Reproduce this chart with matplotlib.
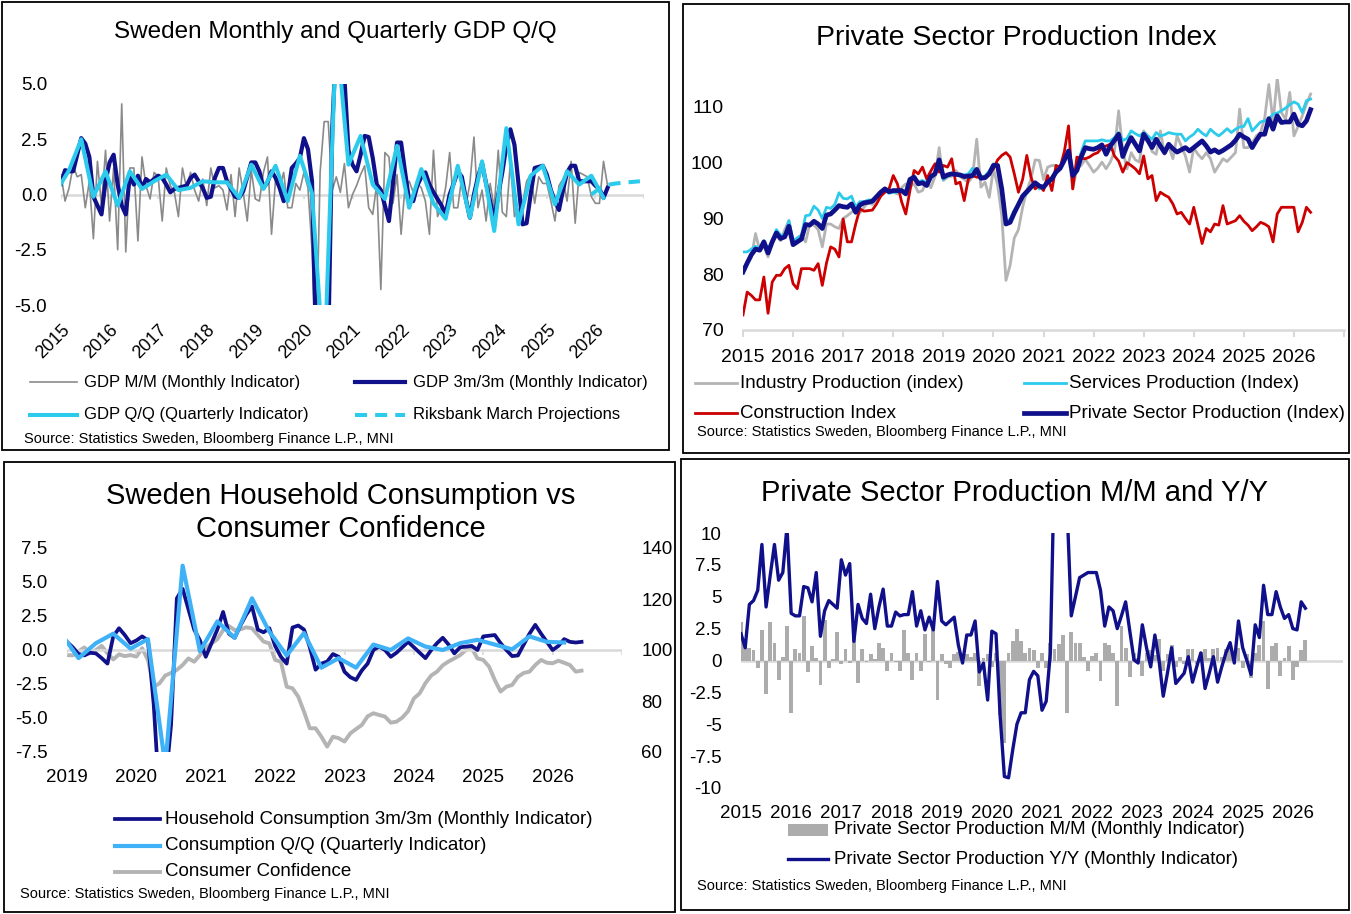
import numpy as np
import matplotlib
matplotlib.use("Agg")
import matplotlib.pyplot as plt
from matplotlib.lines import Line2D
from matplotlib.patches import Rectangle

plt.rcParams["font.family"] = ["Liberation Sans", "DejaVu Sans"]
plt.rcParams["axes.unicode_minus"] = False

W, H = 1351, 914

NAVY = "#10108a"
CYAN = "#2ccbeb"
AZURE = "#3fb2f7"
GREY_MM = "#8a8a8a"
GREY_LT = "#b4b4b4"
RED = "#cc0000"
AXIS_GREY = "#d9d9d9"
SOURCE = "Source: Statistics Sweden, Bloomberg Finance L.P., MNI"

# ---------------------------------------------------------------
# Panel 1 data: GDP, monthly from Jan 2015
# ---------------------------------------------------------------
gdp_mm = [
    0.9, -0.3, 0.3, 1.3, 0.8, 0.9, -0.6, 0.6, -2.0, 1.5, -0.5, 2.0,
    -1.2, 1.2, -2.5, 4.1, -2.6, 1.2, 1.2, -2.1, 1.7, 0.4, -0.2, 1.0,
    0.8, -1.2, 1.2, 0.4, 0.1, -1.0, 1.2, 0.3, 1.0, 0.2, -0.3, 0.7,
    -0.5, 1.2, 0.3, 0.4, 0.2, -0.7, 0.9, -1.0, 1.2, 0.1, -1.2, 1.1,
    -0.2, -0.3, 1.0, 1.7, -1.8, 0.7, 0.3, 1.0, -0.6, -0.6, 0.5, 0.2,
    1.0, 0.3, -2.5, -7.5, 1.0, 3.3, 3.3, 0.2, 0.8, 0.1, 1.4, -0.6,
    0.0, 0.4, 0.9, 1.3, -0.6, -0.9, 0.5, -4.3, 1.9, 1.7, -0.4, 0.9,
    -1.8, 0.4, 0.6, 0.1, 0.5, 0.3, -0.3, -1.8, 2.0, -1.0, -0.6, 0.3,
    1.9, -0.6, -0.6, 0.8, -0.5, 0.5, 2.6, -0.6, 0.2, -1.2, 0.5, -0.6,
    2.0, -0.8, -1.0, 1.5, -1.0, -0.7, -0.4, 0.6, 0.9, -0.4, 0.8, 0.5,
    0.5, -0.3, -1.2, 0.4, 0.7, -0.3, 1.5, -1.3, 1.0, 0.9, 0.8, -0.1,
    -0.4, -0.4, 1.5, 0.4,
]
gdp_3m3m = [
    0.5, 1.1, 1.05, 1.05, 1.8, 2.55, 2.3, 1.7, -0.1, -0.5, -0.9, 0.6,
    1.45, 1.8, 0.45, -0.5, -0.9, 0.85, 0.45, 0.85, 0.3, 0.7, 0.55, 0.7,
    0.85, 0.75, 0.45, 0.1, 0.25, 0.3, 0.35, 0.4, 0.75, 0.9, 0.6, 0.3,
    -0.15, -0.1, 0.75, 1.2, 1.2, 0.6, 0.25, -0.1, -0.15, 0.15, 0.8, 1.45,
    1.45, 1.05, 0.3, 0.55, 1.05, 0.75, 0.3, -0.3, -0.1, 1.2, 1.4, 1.65,
    2.55, 2.05, 0.6, -7.0, -9.0, -8.0, -7.0, 3.0, 7.0, 7.0, 5.3, 2.0,
    1.35, 1.05, 1.8, 2.65, 2.6, 1.65, 0.45, 0.2, -0.5, -1.2, 0.5, 2.35,
    2.35, 1.0, -0.3, -0.3, 0.4, 0.8, 1.0, 0.45, 0.1, -0.2, -0.5, -0.9,
    0.0, 0.5, 1.05, 0.8, -0.2, -1.05, 0.0, 0.8, 1.4, 0.5, -0.3, -1.15,
    0.0, 1.0, 2.2, 2.95, 2.25, 0.5, -1.35, -1.3, 0.0, 1.2, 1.25, 1.3,
    0.9, 0.2, -0.3, -0.7, 0.2, 1.0, 1.3, 1.3, 0.6, 0.6, 0.6, 0.6,
    0.4, 0.25, -0.15, 0.3,
]
# quarterly, 2014Q4 .. 2026Q1 (plotted at quarter-end month)
gdp_qq = [
    0.2, 1.1, 2.5, -0.1, 1.05, -0.5, 1.05, 0.25, 0.6, 0.9, 0.2, 0.3, 0.6,
    0.55, 0.55, -0.15, 1.35, 0.25, 1.3, -0.3, 1.75, 0.05, -8.0, 7.5, 1.35,
    2.65, 0.45, -0.2, 2.2, -0.6, 1.15, -0.4, -1.1, 1.3, -1.05, 1.5, -1.65,
    3.0, -1.35, 0.85, 1.3, -0.45, 1.05, 0.45, 0.85, -0.15,
]
# Riksbank projections, 2025Q4 .. 2026Q4
riksbank_proj = [0.0, 0.4, 0.5, 0.55, 0.6]

# ---------------------------------------------------------------
# Panel 2 data: production indices, monthly from Jan 2015
# ---------------------------------------------------------------
industry_idx = [
    81.0, 82.0, 83.0, 87.3, 84.3, 85.0, 83.1, 85.8, 87.0, 86.0, 88.0, 89.6,
    85.8, 86.5, 87.0, 85.8, 89.0, 88.8, 88.0, 84.9, 89.0, 89.0, 88.5, 88.2,
    90.0, 90.5, 91.1, 91.7, 91.0, 92.0, 92.9, 92.5, 93.5, 94.5, 95.5, 94.7,
    94.7, 94.4, 95.5, 96.2, 95.8, 96.2, 94.7, 95.0, 96.8, 95.5, 97.5, 102.7,
    96.8, 97.4, 97.6, 98.6, 97.5, 97.0, 96.5, 97.5, 104.2, 95.6, 96.5, 93.8,
    98.9, 96.0, 90.5, 78.9, 81.6, 86.5, 88.0, 92.0, 95.0, 97.1, 100.5, 100.4,
    97.0, 99.2, 99.5, 99.5, 98.9, 100.0, 101.8, 95.3, 98.9, 99.5, 100.6, 99.5,
    98.3, 99.0, 100.1, 98.9, 100.1, 102.0, 109.3, 102.1, 98.9, 101.8, 100.5, 100.1,
    105.7, 104.8, 102.0, 101.5, 105.7, 101.5, 103.0, 100.7, 104.8, 103.0, 101.2, 98.3,
    102.7, 101.5, 100.7, 101.8, 100.7, 98.3, 99.5, 100.7, 100.2, 101.0, 101.8, 109.6,
    102.7, 102.7, 103.5, 104.8, 105.4, 108.0, 114.0, 107.2, 115.2, 109.0, 107.8, 112.6,
    104.8, 106.5, 108.4, 110.5, 112.3,
]
services_idx = [
    84.0, 84.0, 84.5, 85.0, 84.5, 86.0, 84.5, 86.0, 88.0, 87.0, 87.0, 89.6,
    86.0, 86.5, 87.0, 90.5, 90.6, 92.2, 91.5, 90.0, 92.0, 91.8, 92.5, 94.6,
    93.6, 93.5, 94.0, 92.0, 93.0, 93.0, 93.3, 93.3, 94.0, 94.7, 95.0, 94.5,
    94.7, 94.7, 95.0, 94.4, 96.8, 97.2, 96.6, 96.8, 96.4, 97.5, 98.2, 100.2,
    97.0, 97.6, 97.8, 98.0, 97.8, 97.8, 98.0, 99.0, 98.0, 97.5, 97.6, 98.5,
    99.8, 99.6, 95.5, 89.5, 89.8, 91.5, 92.5, 93.7, 94.5, 95.4, 96.0, 95.3,
    95.4, 96.8, 97.4, 98.6, 99.0, 100.3, 101.5, 98.0, 99.0, 101.8, 103.9, 103.9,
    103.9, 103.9, 104.1, 103.9, 103.9, 104.5, 105.4, 104.0, 104.3, 105.7, 105.2, 104.8,
    105.4, 104.8, 104.2, 105.4, 104.8, 105.0, 105.4, 105.2, 105.1, 105.1, 103.9, 104.6,
    105.1, 106.0, 105.3, 104.8, 106.0, 105.3, 104.8, 105.4, 106.1, 105.4, 106.0, 106.4,
    106.5, 107.9, 105.7, 106.5, 107.3, 107.5, 107.8, 108.7, 108.9, 109.3, 109.8, 110.4,
    110.9, 110.5, 109.0, 111.1, 111.4,
]
construction_idx = [
    72.7, 76.8, 76.2, 75.4, 75.4, 79.5, 73.0, 78.6, 79.8, 79.8, 81.0, 81.6,
    78.3, 77.4, 81.0, 81.0, 81.0, 80.7, 81.9, 78.0, 82.0, 84.9, 84.5, 83.1,
    89.9, 85.8, 85.8, 89.0, 91.7, 91.3, 91.4, 91.5, 92.6, 94.0, 94.7, 95.3,
    97.7, 96.2, 93.0, 90.8, 95.0, 98.6, 98.0, 99.2, 97.1, 98.5, 99.8, 98.3,
    99.5, 99.2, 100.7, 96.2, 96.5, 93.2, 97.1, 97.7, 97.4, 97.4, 97.4, 98.0,
    98.9, 100.5, 101.3, 101.8, 101.0, 98.0, 94.7, 97.0, 101.3, 97.4, 95.3, 96.0,
    95.0, 97.7, 95.0, 99.5, 99.2, 102.0, 106.6, 95.3, 101.0, 100.8, 100.7, 101.0,
    101.5, 101.8, 102.7, 103.0, 103.3, 101.2, 100.3, 98.3, 100.0, 99.5, 98.9, 98.0,
    101.2, 97.1, 97.7, 93.2, 94.7, 94.2, 93.8, 92.6, 90.8, 91.1, 90.0, 89.0,
    92.0, 88.8, 85.5, 88.2, 87.6, 89.0, 88.8, 92.3, 89.0, 89.3, 89.6, 90.5,
    89.5, 88.8, 87.8, 88.5, 89.3, 89.0, 88.5, 85.8, 90.8, 92.0, 92.0, 92.0,
    92.0, 87.6, 89.3, 92.0, 91.1,
]
private_idx = [
    80.4, 82.0, 83.5, 84.5, 84.3, 85.8, 83.8, 85.8, 87.4, 86.4, 86.7, 88.6,
    85.3, 85.8, 86.3, 88.9, 88.8, 89.5, 89.0, 88.2, 90.6, 90.8, 91.5, 92.3,
    92.1, 92.0, 92.6, 91.1, 92.4, 92.8, 92.9, 93.1, 93.9, 94.7, 95.3, 94.8,
    95.0, 95.0, 95.0, 94.4, 97.0, 97.4, 96.2, 96.4, 95.9, 97.5, 98.0, 100.5,
    97.4, 97.8, 98.0, 97.9, 97.8, 97.5, 97.6, 97.7, 98.8, 97.2, 97.3, 98.0,
    99.5, 99.5, 95.3, 89.0, 89.3, 91.0, 92.5, 94.0, 94.8, 95.6, 96.4, 95.8,
    95.6, 96.5, 97.1, 98.3, 99.0, 100.5, 102.1, 97.7, 98.6, 101.0, 102.7, 102.5,
    102.4, 102.7, 103.2, 101.5, 103.0, 104.0, 105.1, 101.1, 103.0, 104.5, 103.3, 102.1,
    105.1, 104.0, 102.7, 104.2, 103.0, 101.8, 103.3, 102.5, 101.9, 102.3, 102.7, 102.1,
    102.7, 103.3, 103.9, 103.0, 101.9, 102.3, 101.8, 102.2, 102.7, 103.2, 104.0, 105.1,
    104.6, 104.2, 102.7, 104.0, 105.1, 105.1, 107.9, 106.0, 108.4, 107.2, 107.3, 107.3,
    108.7, 106.9, 106.6, 107.5, 109.5,
]

# ---------------------------------------------------------------
# Panel 3 data: consumption, monthly from Jan 2019
# ---------------------------------------------------------------
hh_cons_3m3m = [
    0.6, 0.2, -0.3, -0.4, -0.2, -0.25, -0.6, -1.0, 1.0, 1.6, 1.1, 0.5,
    0.7, 1.0, 0.7, -4.0, -11.0, -10.0, -5.5, 3.8, 4.5, 3.0, 1.5, 0.7,
    -0.5, 0.5, 1.5, 2.8, 1.2, 0.9, 1.8, 2.6, 3.2, 1.5, 1.3, 1.6,
    0.3, -0.5, -1.0, 1.65, 1.8, 1.5, 0.2, -1.45, -1.0, -0.85, -0.3, -0.5,
    -1.6, -2.0, -2.2, -1.5, -1.0, 0.0, 0.25, 0.0, -0.5, -0.2, 0.2, 0.6,
    0.2, -0.2, -0.6, 0.0, 0.5, 0.9, 0.4, -0.25, 0.2, 0.25, 0.3, 0.0,
    1.0, 1.05, 1.1, 0.5, 0.0, -0.45, -0.4, 0.4, 1.2, 1.85, 1.2, 0.6,
    0.0, 0.3, 0.8, 0.6, 0.55, 0.6,
]
# quarterly, 2018Q4 .. 2026Q1
cons_qq = [
    1.2, -0.6, 0.5, 1.2, 0.1, 0.8, -8.5, 6.2, -0.1, 2.1, 0.9, 3.8, 1.35,
    -0.4, 1.25, -1.3, -0.6, -1.3, 0.4, 0.0, 0.85, 0.25, 0.0, 0.5, 0.75,
    0.4, 0.05, 1.0, 0.6, 0.55,
]
cons_confidence = [
    98.0, 97.9, 99.5, 101.0, 98.7, 100.0, 101.6, 98.7, 96.3, 98.3, 97.6, 98.0,
    97.4, 100.7, 96.1, 85.6, 86.9, 90.0, 91.0, 92.2, 94.1, 96.7, 95.4, 98.0,
    100.7, 102.6, 104.2, 107.8, 109.4, 107.8, 108.1, 108.9, 108.5, 105.9, 103.3, 102.6,
    96.1, 95.4, 85.6, 85.0, 81.7, 75.8, 69.3, 69.3, 66.0, 62.1, 66.0, 65.4,
    64.1, 67.3, 69.0, 70.6, 74.0, 75.2, 74.5, 73.9, 71.5, 71.9, 73.5, 76.0,
    81.0, 83.0, 87.0, 90.0, 91.5, 94.0, 95.5, 96.7, 98.0, 100.0, 100.7, 96.7,
    96.1, 93.5, 88.2, 83.7, 85.6, 86.3, 89.5, 91.0, 91.5, 94.1, 96.1, 95.0,
    94.8, 95.8, 95.0, 94.1, 91.5, 91.9,
]

# ---------------------------------------------------------------
# Panel 4 data: private sector production, monthly from Jan 2015
# ---------------------------------------------------------------
prod_mm = [
    3.0, 1.1, 1.0, 0.8, -0.6, 2.4, -2.6, 3.0, 1.4, -1.5, 0.3, 2.7,
    -4.1, 0.9, 0.6, 3.5, -0.9, 1.1, 0.2, -1.9, 3.2, -0.6, 0.1, 2.2,
    -0.3, 0.9, -0.2, 1.8, -1.8, 0.9, -0.1, 0.5, 0.1, 1.4, 1.0, -0.8,
    0.6, -0.1, -0.8, 2.4, 0.6, -1.5, 0.6, -0.8, 2.1, -0.1, 3.1, -3.1,
    0.5, -0.3, -0.6, 0.5, 0.7, 0.3, 0.5, 0.3, 0.6, -2.0, 0.2, 0.5,
    -0.5, 0.6, -4.3, -6.5, 0.6, 1.5, 2.5, 1.5, 0.6, 1.0, 0.8, -0.6,
    0.6, -0.6, 1.4, 0.9, 1.3, 2.0, -4.1, 2.2, 1.4, 1.4, 0.3, -0.8,
    0.35, 0.6, -1.6, 1.4, 1.2, 0.6, -3.6, 2.7, 1.0, -1.3, 0.6, 0.2,
    -1.2, 0.6, 0.8, 0.4, 1.7, -0.8, 0.5, 1.2, -0.5, 0.3, -0.3, 0.9,
    0.9, -0.3, 0.7, 0.9, 0.2, 0.9, 1.0, 0.3, 0.9, 1.0, 0.5, 1.0,
    -0.6, 0.5, -1.4, 0.6, 1.2, 3.1, -2.2, 1.1, 1.4, -1.2, 0.2, 1.1,
    -1.5, -0.5, 0.8, 1.6,
]
prod_yy = [
    2.1, 1.0, 4.4, 4.7, 5.5, 9.1, 4.2, 6.7, 9.1, 6.3, 6.9, 10.5,
    3.7, 3.5, 3.5, 5.8, 5.7, 4.6, 6.9, 1.9, 3.9, 4.7, 4.4, 4.1,
    7.9, 6.7, 7.6, 1.5, 4.4, 3.3, 2.9, 5.2, 2.5, 4.2, 5.6, 2.7,
    2.7, 3.8, 3.5, 3.6, 3.6, 5.4, 2.7, 3.9, 2.4, 3.4, 2.4, 6.2,
    3.1, 2.8, 3.1, 3.4, 1.2, -0.2, 2.0, 2.0, 3.1, -0.9, -0.2, -3.1,
    2.3, 2.1, -4.4, -9.1, -9.2, -7.0, -5.0, -4.1, -4.1, -1.5, -0.85, -1.2,
    -3.9, -3.2, 0.6, 16.0, 18.0, 15.0, 12.0, 3.5, 5.0, 6.5, 6.7, 6.9,
    6.9, 6.9, 5.5, 2.7, 4.2, 3.9, 2.5, 3.5, 4.6, 2.3, 0.05, -0.2,
    2.8, 1.0, -0.5, 2.0, 0.0, -2.8, -1.0, 1.0, -1.8, -1.4, -1.0, 0.3,
    -1.7, -0.5, 0.6, -2.2, -1.0, 0.3, -1.7, -0.5, 0.6, 1.4, -0.2, 3.1,
    1.0, 0.0, -1.1, 2.8, 1.8, 5.9, 3.6, 3.6, 5.4, 4.2, 3.3, 3.6,
    2.5, 2.4, 4.6, 4.1,
]

years_15 = list(range(2015, 2027))
years_19 = list(range(2019, 2027))


def monthly(start, values):
    return start + np.arange(len(values)) / 12


def quarterly(first_month, start, values):
    # first_month: month offset (from Jan of start) of the first point
    return start + (first_month + 3 * np.arange(len(values))) / 12


fig = plt.figure(figsize=(W / 100, H / 100), dpi=100)


def axes_px(x0, y0, x1, y1):
    return fig.add_axes([x0 / W, 1 - y1 / H, (x1 - x0) / W, (y1 - y0) / H])


def text_px(x, y, s, **kw):
    kw.setdefault("va", "center")
    fig.text(x / W, 1 - y / H, s, **kw)


def sample_line(x0, x1, y, **kw):
    fig.add_artist(Line2D([x0 / W, x1 / W], [1 - y / H] * 2, **kw))


def frame_px(x0, y0, x1, y1):
    fig.add_artist(Rectangle((x0 / W, 1 - y1 / H), (x1 - x0) / W, (y1 - y0) / H,
                             fill=False, ec="black", lw=1.3))


def clean(ax):
    for s in ax.spines.values():
        s.set_visible(False)
    ax.tick_params(axis="y", length=0)
    ax.tick_params(axis="x", length=0)


# panel frames
frame_px(2, 2, 669, 450)
frame_px(683, 4, 1349, 453)
frame_px(4, 462, 675, 912)
frame_px(681, 459, 1349, 910)

# ---------------- Panel 1 ----------------
ax1 = axes_px(61, 84, 644, 305)
clean(ax1)
ax1.set_xlim(2015, 2027)
ax1.set_ylim(-5, 5)
ax1.axhline(0, color=AXIS_GREY, lw=1.8, zorder=1)
ax1.vlines(years_15 + [2027], -0.22, 0, color=AXIS_GREY, lw=1.2, zorder=1)
ax1.plot(monthly(2015, gdp_mm), gdp_mm, color=GREY_MM, lw=1.2, zorder=2)
ax1.plot(monthly(2015, gdp_3m3m), gdp_3m3m, color=NAVY, lw=3.0, zorder=3)
ax1.plot(quarterly(-1, 2015, gdp_qq), gdp_qq, color=CYAN, lw=2.9, zorder=4)
ax1.plot(quarterly(131, 2015, riksbank_proj), riksbank_proj, color=CYAN, lw=2.9,
         ls=(0, (3, 2)), zorder=4)
ax1.set_yticks([-5, -2.5, 0, 2.5, 5])
ax1.set_yticklabels([f"{v:.1f}" for v in [-5, -2.5, 0, 2.5, 5]], fontsize=13.5)
ax1.set_xticks(years_15)
ax1.set_xticklabels([str(y) for y in years_15], fontsize=13, rotation=45,
                    ha="right", va="top", rotation_mode="anchor")
ax1.tick_params(axis="y", pad=10)
ax1.tick_params(axis="x", pad=12)

text_px(335, 32, "Sweden Monthly and Quarterly GDP Q/Q", fontsize=17.5, ha="center")
sample_line(30, 77, 382, color=GREY_MM, lw=1.2)
text_px(84, 382, "GDP M/M (Monthly Indicator)", fontsize=12)
sample_line(355, 405, 382, color=NAVY, lw=3.0)
text_px(413, 382, "GDP 3m/3m (Monthly Indicator)", fontsize=12)
sample_line(30, 77, 415, color=CYAN, lw=2.9)
text_px(84, 415, "GDP Q/Q (Quarterly Indicator)", fontsize=12)
sample_line(355, 405, 415, color=CYAN, lw=2.9, ls=(0, (3, 2)))
text_px(413, 415, "Riksbank March Projections", fontsize=12)
text_px(24, 439, SOURCE, fontsize=10.5)

# ---------------- Panel 2 ----------------
ax2 = axes_px(743, 79, 1344, 330)
clean(ax2)
ax2.spines["bottom"].set_visible(True)
ax2.spines["bottom"].set_color(AXIS_GREY)
ax2.spines["bottom"].set_linewidth(1.8)
ax2.set_xlim(2015, 2027)
ax2.set_ylim(70, 115)
ax2.plot(monthly(2015, industry_idx), industry_idx, color=GREY_LT, lw=2.0, zorder=2)
ax2.plot(monthly(2015, services_idx), services_idx, color=CYAN, lw=2.0, zorder=3)
ax2.plot(monthly(2015, construction_idx), construction_idx, color=RED, lw=2.0, zorder=4)
ax2.plot(monthly(2015, private_idx), private_idx, color=NAVY, lw=3.4, zorder=5)
ax2.set_yticks([70, 80, 90, 100, 110])
ax2.set_yticklabels(["70", "80", "90", "100", "110"], fontsize=14)
ax2.set_xticks(years_15 + [2027])
ax2.set_xticklabels([str(y) for y in years_15] + [""], fontsize=14)
ax2.tick_params(axis="x", length=5, width=1.5, color=AXIS_GREY, direction="out", pad=9)
ax2.tick_params(axis="y", pad=14)

text_px(1016, 38, "Private Sector Production Index", fontsize=20.5, ha="center")
sample_line(695, 737, 383, color=GREY_LT, lw=2.0)
text_px(740, 383, "Industry Production (index)", fontsize=13.5)
sample_line(1024, 1066, 383, color=CYAN, lw=2.0)
text_px(1069, 383, "Services Production (Index)", fontsize=13.5)
sample_line(695, 737, 413, color=RED, lw=2.0)
text_px(740, 413, "Construction Index", fontsize=13.5)
sample_line(1024, 1066, 413, color=NAVY, lw=3.4)
text_px(1069, 413, "Private Sector Production (Index)", fontsize=13.5)
text_px(697, 432, SOURCE, fontsize=10.5)

# ---------------- Panel 3 ----------------
ax3 = axes_px(67, 548, 622, 752)
ax3r = ax3.twinx()
clean(ax3)
clean(ax3r)
ax3.set_zorder(ax3r.get_zorder() + 1)
ax3.patch.set_visible(False)
ax3.set_xlim(2019, 2027)
ax3.set_ylim(-7.5, 7.5)
ax3r.set_ylim(60, 140)
ax3.axhline(0, color=AXIS_GREY, lw=1.8, zorder=1)
ax3.vlines(years_19 + [2027], -0.35, 0, color=AXIS_GREY, lw=1.2, zorder=1)
ax3r.plot(monthly(2019, cons_confidence), cons_confidence, color=GREY_LT, lw=2.8)
ax3.plot(monthly(2019, hh_cons_3m3m), hh_cons_3m3m, color=NAVY, lw=2.7, zorder=3)
ax3.plot(quarterly(-1, 2019, cons_qq), cons_qq, color=AZURE, lw=3.0, zorder=4)
ax3.set_yticks([-7.5, -5, -2.5, 0, 2.5, 5, 7.5])
ax3.set_yticklabels([f"{v:.1f}" for v in [-7.5, -5, -2.5, 0, 2.5, 5, 7.5]], fontsize=13.5)
ax3r.set_yticks([60, 80, 100, 120, 140])
ax3r.set_yticklabels(["60", "80", "100", "120", "140"], fontsize=13.5)
ax3.set_xticks(years_19)
ax3.set_xticklabels([str(y) for y in years_19], fontsize=13.5)
ax3.tick_params(axis="y", pad=14)
ax3r.tick_params(axis="y", pad=14)
ax3.tick_params(axis="x", pad=12)

text_px(341, 496, "Sweden Household Consumption vs", fontsize=21, ha="center")
text_px(341, 529, "Consumer Confidence", fontsize=21, ha="center")
sample_line(115, 160, 819, color=NAVY, lw=2.7)
text_px(165, 819, "Household Consumption 3m/3m (Monthly Indicator)", fontsize=13.5)
sample_line(115, 160, 846, color=AZURE, lw=3.0)
text_px(165, 846, "Consumption Q/Q (Quarterly Indicator)", fontsize=13.5)
sample_line(115, 160, 872, color=GREY_LT, lw=2.8)
text_px(165, 872, "Consumer Confidence", fontsize=13.5)
text_px(20, 894, SOURCE, fontsize=10.5)

# ---------------- Panel 4 ----------------
ax4 = axes_px(741, 533, 1343, 788)
clean(ax4)
ax4.set_xlim(2015, 2027)
ax4.set_ylim(-10, 10)
ax4.axhline(0, color=AXIS_GREY, lw=1.8, zorder=1)
ax4.bar(monthly(2015, prod_mm), prod_mm, width=0.076, color="#acacac", lw=0, zorder=2)
ax4.plot(monthly(2015, prod_yy), prod_yy, color=NAVY, lw=2.4, zorder=3)
yt4 = [-10, -7.5, -5, -2.5, 0, 2.5, 5, 7.5, 10]
ax4.set_yticks(yt4)
ax4.set_yticklabels([f"{v:g}" for v in yt4], fontsize=13.5)
ax4.set_xticks(years_15)
ax4.set_xticklabels([str(y) for y in years_15], fontsize=13.5)
ax4.tick_params(axis="y", pad=14)
ax4.tick_params(axis="x", pad=12)

text_px(1015, 493, "Private Sector Production M/M and Y/Y", fontsize=21, ha="center")
fig.add_artist(Rectangle((788 / W, 1 - 836 / H), 40 / W, 12 / H, color="#acacac", lw=0))
text_px(834, 830, "Private Sector Production M/M (Monthly Indicator)", fontsize=13.4)
sample_line(788, 828, 859, color=NAVY, lw=2.4)
text_px(834, 859, "Private Sector Production Y/Y (Monthly Indicator)", fontsize=13.4)
text_px(697, 886, SOURCE, fontsize=10.5)

fig.savefig("out.png", dpi=100)
